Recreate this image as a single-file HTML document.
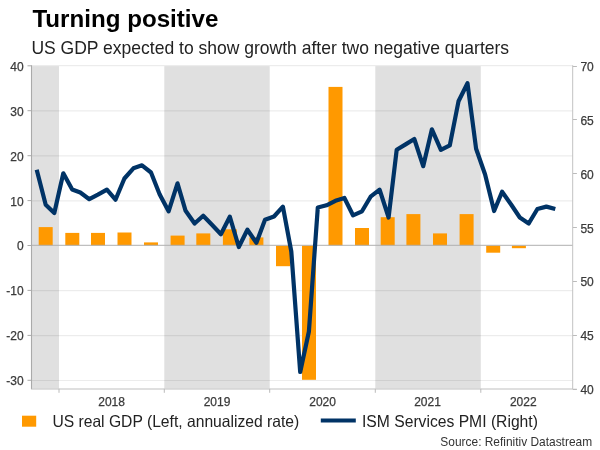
<!DOCTYPE html><html><head><meta charset="utf-8"><title>Turning positive</title>
<style>html,body{margin:0;padding:0;background:#fff}svg{display:block}text{font-family:"Liberation Sans",Arial,sans-serif}</style></head><body>
<svg width="600" height="450" viewBox="0 0 600 450">
<rect width="600" height="450" fill="#fff"/>
<rect x="32" y="66.2" width="27.0" height="322.3" fill="#e0e0e0"/>
<rect x="164.3" y="66.2" width="105.4" height="322.3" fill="#e0e0e0"/>
<rect x="375.3" y="66.2" width="105.5" height="322.3" fill="#e0e0e0"/>
<line x1="31.5" x2="572.9" y1="380.5" y2="380.5" stroke="#000" stroke-opacity="0.075" stroke-width="1.2"/>
<line x1="31.5" x2="572.9" y1="335.6" y2="335.6" stroke="#000" stroke-opacity="0.075" stroke-width="1.2"/>
<line x1="31.5" x2="572.9" y1="290.6" y2="290.6" stroke="#000" stroke-opacity="0.075" stroke-width="1.2"/>
<line x1="31.5" x2="572.9" y1="200.8" y2="200.8" stroke="#000" stroke-opacity="0.075" stroke-width="1.2"/>
<line x1="31.5" x2="572.9" y1="155.9" y2="155.9" stroke="#000" stroke-opacity="0.075" stroke-width="1.2"/>
<line x1="31.5" x2="572.9" y1="110.9" y2="110.9" stroke="#000" stroke-opacity="0.075" stroke-width="1.2"/>
<line x1="31.5" x2="572.9" y1="65.6" y2="65.6" stroke="#000" stroke-opacity="0.075" stroke-width="1.2"/>
<rect x="38.7" y="227.1" width="14" height="18.4" fill="#ff9900"/>
<rect x="65.3" y="232.9" width="14" height="12.6" fill="#ff9900"/>
<rect x="91.0" y="232.9" width="14" height="12.6" fill="#ff9900"/>
<rect x="117.5" y="232.5" width="14" height="13.0" fill="#ff9900"/>
<rect x="144.0" y="242.4" width="14" height="3.1" fill="#ff9900"/>
<rect x="170.6" y="235.6" width="14" height="9.9" fill="#ff9900"/>
<rect x="196.3" y="233.4" width="14" height="12.1" fill="#ff9900"/>
<rect x="222.9" y="229.3" width="14" height="16.2" fill="#ff9900"/>
<rect x="249.4" y="237.4" width="14" height="8.1" fill="#ff9900"/>
<rect x="276.0" y="245.5" width="14" height="20.7" fill="#ff9900"/>
<rect x="302.0" y="245.5" width="14" height="134.3" fill="#ff9900"/>
<rect x="328.5" y="86.9" width="14" height="158.6" fill="#ff9900"/>
<rect x="355.0" y="228.0" width="14" height="17.5" fill="#ff9900"/>
<rect x="380.7" y="217.2" width="14" height="28.3" fill="#ff9900"/>
<rect x="406.4" y="214.1" width="14" height="31.5" fill="#ff9900"/>
<rect x="433.0" y="233.4" width="14" height="12.1" fill="#ff9900"/>
<rect x="459.6" y="214.1" width="14" height="31.5" fill="#ff9900"/>
<rect x="486.2" y="245.5" width="14" height="7.2" fill="#ff9900"/>
<rect x="511.9" y="245.5" width="14" height="2.7" fill="#ff9900"/>
<line x1="31.5" x2="572.9" y1="245.3" y2="245.3" stroke="#b0b0b0" stroke-width="1"/>
<polyline points="36.7,169.7 45.7,204.7 54.3,213.0 63.3,173.3 72.2,189.5 80.3,192.5 89.3,199.2 97.9,194.7 106.9,189.7 115.5,199.7 124.4,178.5 133.4,168.3 142.0,165.3 151.0,172.5 159.6,194.2 168.6,211.3 177.5,183.3 185.6,210.8 194.6,223.5 203.2,215.8 212.2,225.0 220.9,234.2 229.8,216.7 238.8,247.0 247.4,229.7 256.4,242.8 265.0,219.7 274.0,216.5 282.9,206.7 291.3,251.5 300.2,372.0 308.9,331.5 317.8,207.5 326.5,205.3 335.4,200.8 344.4,198.0 353.0,215.3 362.0,211.3 370.6,196.7 379.6,189.7 388.6,217.5 396.7,149.8 405.6,144.4 414.3,139.0 423.2,166.2 431.9,129.3 440.9,149.8 449.8,145.4 458.5,101.3 467.5,83.2 476.1,148.7 485.1,174.5 494.1,211.0 502.1,191.7 511.1,204.5 519.8,217.5 528.7,223.5 537.4,209.0 546.4,206.6 555.3,209.0" fill="none" stroke="#003366" stroke-width="4.2" stroke-linejoin="round"/>
<line x1="31.5" x2="31.5" y1="65.3" y2="389.3" stroke="#aaa" stroke-width="1.1"/>
<line x1="572.7" x2="572.7" y1="65.3" y2="389.3" stroke="#c2c2c2" stroke-width="1"/>
<line x1="31.5" x2="572.9" y1="389" y2="389" stroke="#c0c0c0" stroke-width="1.1"/>
<line x1="572.9" x2="576.9" y1="389" y2="389" stroke="#dadada" stroke-width="1"/>
<line x1="27.5" x2="31.5" y1="380.3" y2="380.3" stroke="#aaa" stroke-width="1"/>
<text x="23.6" y="385.2" font-size="12" fill="#3a3a3a" stroke="#3a3a3a" stroke-width="0.25" text-anchor="end">-30</text>
<line x1="27.5" x2="31.5" y1="335.4" y2="335.4" stroke="#aaa" stroke-width="1"/>
<text x="23.6" y="340.3" font-size="12" fill="#3a3a3a" stroke="#3a3a3a" stroke-width="0.25" text-anchor="end">-20</text>
<line x1="27.5" x2="31.5" y1="290.4" y2="290.4" stroke="#aaa" stroke-width="1"/>
<text x="23.6" y="295.3" font-size="12" fill="#3a3a3a" stroke="#3a3a3a" stroke-width="0.25" text-anchor="end">-10</text>
<line x1="27.5" x2="31.5" y1="245.5" y2="245.5" stroke="#aaa" stroke-width="1"/>
<text x="23.6" y="250.4" font-size="12" fill="#3a3a3a" stroke="#3a3a3a" stroke-width="0.25" text-anchor="end">0</text>
<line x1="27.5" x2="31.5" y1="200.6" y2="200.6" stroke="#aaa" stroke-width="1"/>
<text x="23.6" y="205.5" font-size="12" fill="#3a3a3a" stroke="#3a3a3a" stroke-width="0.25" text-anchor="end">10</text>
<line x1="27.5" x2="31.5" y1="155.7" y2="155.7" stroke="#aaa" stroke-width="1"/>
<text x="23.6" y="160.6" font-size="12" fill="#3a3a3a" stroke="#3a3a3a" stroke-width="0.25" text-anchor="end">20</text>
<line x1="27.5" x2="31.5" y1="110.7" y2="110.7" stroke="#aaa" stroke-width="1"/>
<text x="23.6" y="115.6" font-size="12" fill="#3a3a3a" stroke="#3a3a3a" stroke-width="0.25" text-anchor="end">30</text>
<line x1="27.5" x2="31.5" y1="65.8" y2="65.8" stroke="#aaa" stroke-width="1"/>
<text x="23.6" y="70.7" font-size="12" fill="#3a3a3a" stroke="#3a3a3a" stroke-width="0.25" text-anchor="end">40</text>
<line x1="572.9" x2="576.9" y1="389.5" y2="389.5" stroke="#bbb" stroke-width="1"/>
<text x="580.4" y="394.0" font-size="12" fill="#3a3a3a" stroke="#3a3a3a" stroke-width="0.25">40</text>
<line x1="572.9" x2="576.9" y1="335.5" y2="335.5" stroke="#bbb" stroke-width="1"/>
<text x="580.4" y="340.2" font-size="12" fill="#3a3a3a" stroke="#3a3a3a" stroke-width="0.25">45</text>
<line x1="572.9" x2="576.9" y1="281.5" y2="281.5" stroke="#bbb" stroke-width="1"/>
<text x="580.4" y="286.3" font-size="12" fill="#3a3a3a" stroke="#3a3a3a" stroke-width="0.25">50</text>
<line x1="572.9" x2="576.9" y1="227.5" y2="227.5" stroke="#bbb" stroke-width="1"/>
<text x="580.4" y="232.5" font-size="12" fill="#3a3a3a" stroke="#3a3a3a" stroke-width="0.25">55</text>
<line x1="572.9" x2="576.9" y1="173.5" y2="173.5" stroke="#bbb" stroke-width="1"/>
<text x="580.4" y="178.7" font-size="12" fill="#3a3a3a" stroke="#3a3a3a" stroke-width="0.25">60</text>
<line x1="572.9" x2="576.9" y1="119.5" y2="119.5" stroke="#bbb" stroke-width="1"/>
<text x="580.4" y="124.8" font-size="12" fill="#3a3a3a" stroke="#3a3a3a" stroke-width="0.25">65</text>
<line x1="572.9" x2="576.9" y1="66.5" y2="66.5" stroke="#bbb" stroke-width="1"/>
<text x="580.4" y="71.0" font-size="12" fill="#3a3a3a" stroke="#3a3a3a" stroke-width="0.25">70</text>
<line x1="59.0" x2="59.0" y1="388.8" y2="392.8" stroke="#bbb" stroke-width="1"/>
<line x1="164.3" x2="164.3" y1="388.8" y2="392.8" stroke="#bbb" stroke-width="1"/>
<line x1="269.7" x2="269.7" y1="388.8" y2="392.8" stroke="#bbb" stroke-width="1"/>
<line x1="375.3" x2="375.3" y1="388.8" y2="392.8" stroke="#bbb" stroke-width="1"/>
<line x1="480.8" x2="480.8" y1="388.8" y2="392.8" stroke="#bbb" stroke-width="1"/>
<text x="111.6" y="406.4" font-size="12" fill="#3a3a3a" stroke="#3a3a3a" stroke-width="0.25" text-anchor="middle">2018</text>
<text x="217.0" y="406.4" font-size="12" fill="#3a3a3a" stroke="#3a3a3a" stroke-width="0.25" text-anchor="middle">2019</text>
<text x="322.6" y="406.4" font-size="12" fill="#3a3a3a" stroke="#3a3a3a" stroke-width="0.25" text-anchor="middle">2020</text>
<text x="427.5" y="406.4" font-size="12" fill="#3a3a3a" stroke="#3a3a3a" stroke-width="0.25" text-anchor="middle">2021</text>
<text x="523.3" y="406.4" font-size="12" fill="#3a3a3a" stroke="#3a3a3a" stroke-width="0.25" text-anchor="middle">2022</text>
<text x="32.4" y="27" font-size="24.15" font-weight="bold" fill="#000">Turning positive</text>
<text x="31.4" y="53.8" font-size="17.53" fill="#222">US GDP expected to show growth after two negative quarters</text>
<rect x="22" y="415.7" width="14.2" height="11" fill="#ff9900"/>
<text x="52.4" y="427.4" font-size="15.66" fill="#222">US real GDP (Left, annualized rate)</text>
<line x1="320.8" x2="355.8" y1="420.6" y2="420.6" stroke="#003366" stroke-width="4"/>
<text x="362" y="427.4" font-size="15.68" fill="#222">ISM Services PMI (Right)</text>
<text x="592.1" y="446.3" font-size="11.93" fill="#333" text-anchor="end">Source: Refinitiv Datastream</text>
</svg></body></html>
